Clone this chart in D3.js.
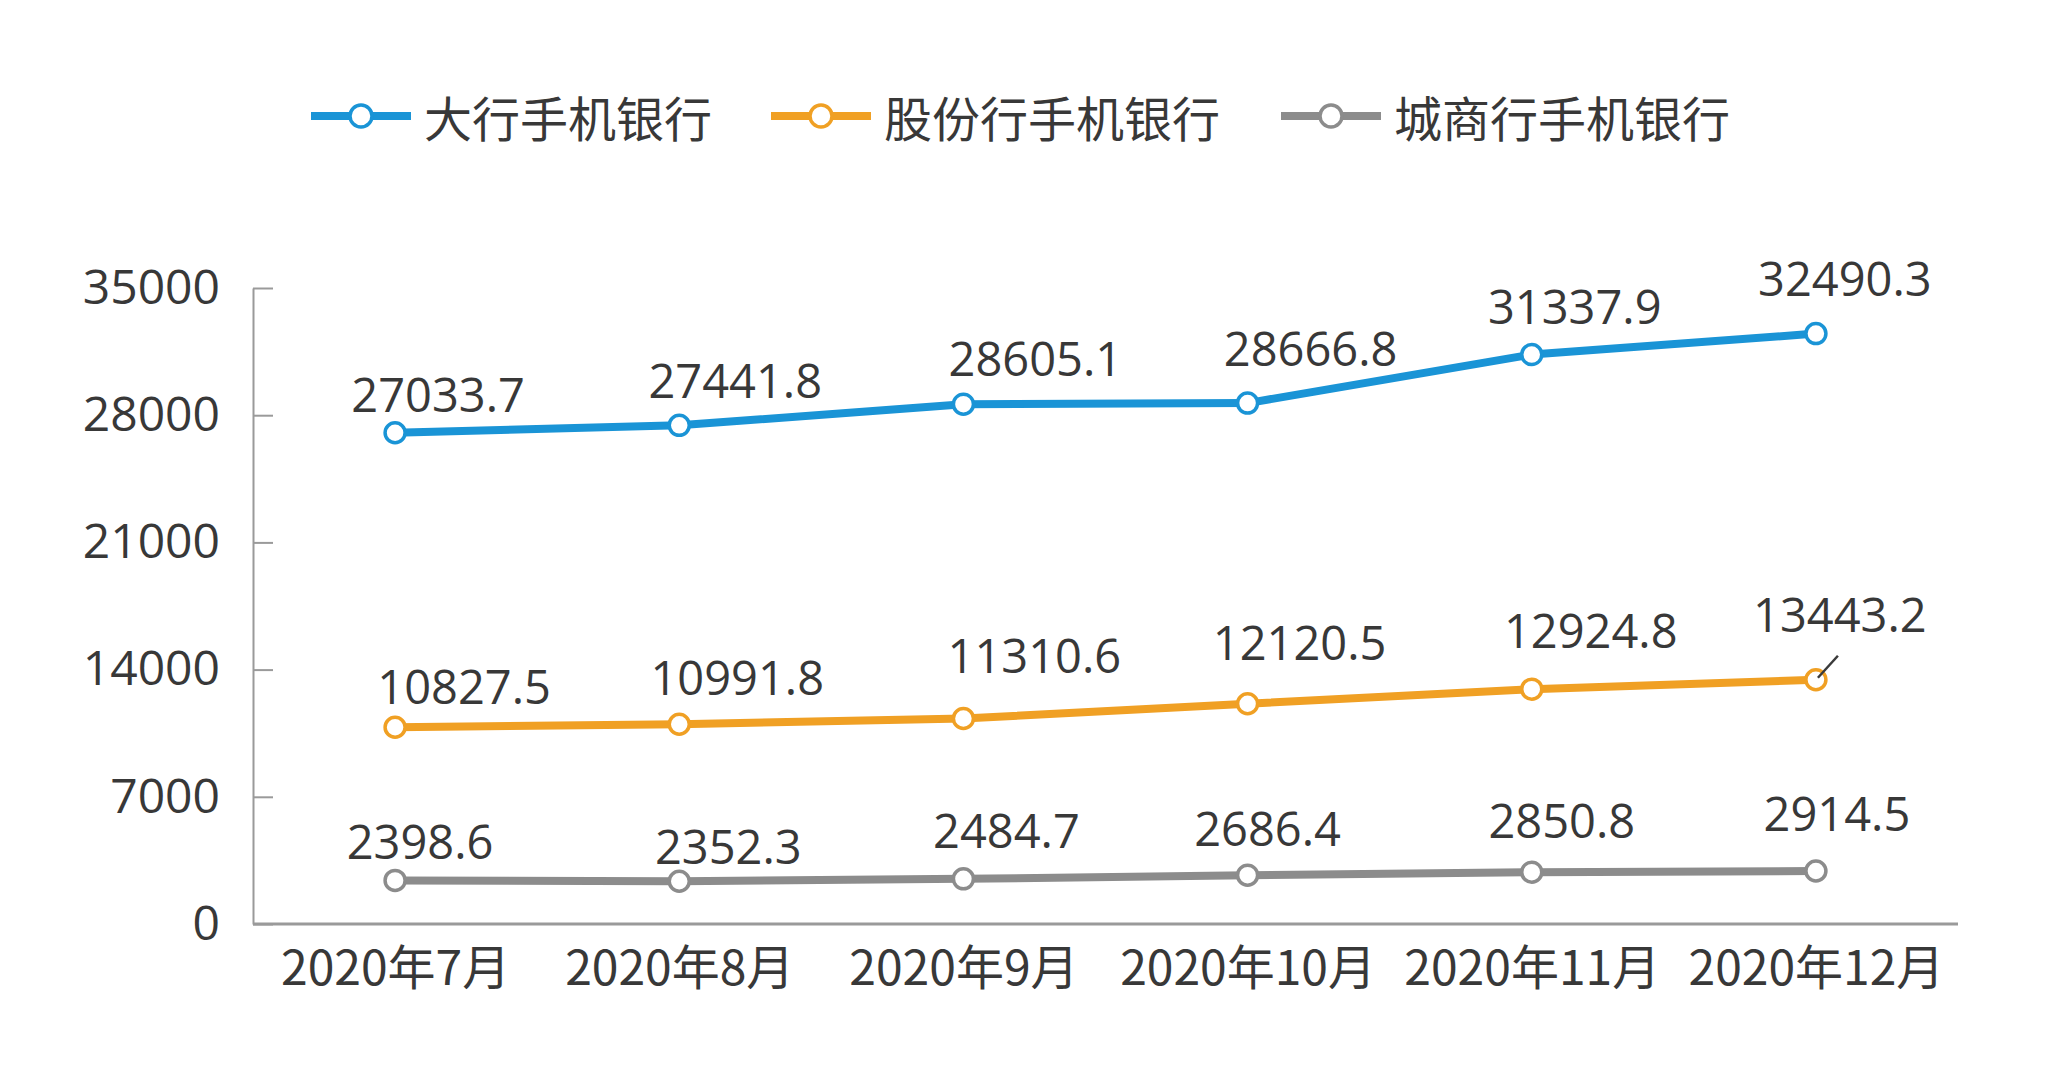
<!DOCTYPE html>
<html><head><meta charset="utf-8">
<script src="https://cdn.jsdelivr.net/npm/d3@7"></script>
<style>
html,body{margin:0;padding:0;background:#fff;}
svg{display:block;}
</style></head>
<body>
<svg id="chart" width="2056" height="1080"></svg>
<script>
// ---- data ----
const categories = ["2020年7月","2020年8月","2020年9月","2020年10月","2020年11月","2020年12月"];
const seriesNames = ["大行手机银行","股份行手机银行","城商行手机银行"];
const bigBank = [27033.7, 27441.8, 28605.1, 28666.8, 31337.9, 32490.3];
const jointBank = [10827.5, 10991.8, 11310.6, 12120.5, 12924.8, 13443.2];
const cityBank = [2398.6, 2352.3, 2484.7, 2686.4, 2850.8, 2914.5];
const yTicks = [0, 7000, 14000, 21000, 28000, 35000];

// ---- layout (label offsets relative to points, in px) ----
const labelDx = [[43,56,72,63,43,29],[69,58,71,52,59,24],[25,49,43,20,30,21]];
const labelDy = [[-39,-45,-46,-55,-49,-56],[-41,-47,-63,-62,-59,-66],[-39,-35,-49,-47,-52,-58]];
const colors = ["#1a94d6","#f0a024","#8c8c8c"];
const textColor = "#383838";
const numFont = "'Open Sans', 'Noto Sans CJK SC', sans-serif";
const cjkFont = "'Noto Sans CJK SC', sans-serif";

const svg = d3.select("#chart");
const plotLeft = 253, plotRight = 1958, plotTop = 288, plotBottom = 924;

const x = d3.scalePoint().domain(categories).range([plotLeft, plotRight]).padding(0.5);
const y = d3.scaleLinear().domain([0, 35000]).range([plotBottom, plotTop]);

// y axis
const yAxis = d3.axisLeft(y).tickValues(yTicks).tickSizeInner(-20).tickSizeOuter(0).tickPadding(33).tickFormat(d3.format("d"));
const gy = svg.append("g").attr("transform", `translate(${plotLeft},0)`).call(yAxis);
gy.select(".domain").attr("stroke", "#9a9a9a").attr("stroke-width", 2);
gy.selectAll(".tick line").attr("stroke", "#9a9a9a").attr("stroke-width", 2);
gy.selectAll(".tick text").attr("font-family", numFont).attr("font-size", 48).attr("fill", textColor);

// x axis
const xAxis = d3.axisBottom(x).tickSize(0).tickSizeOuter(0).tickPadding(27);
const gx = svg.append("g").attr("transform", `translate(0,${plotBottom})`).call(xAxis);
gx.select(".domain").attr("d", `M${plotLeft},0H${plotRight}`).attr("stroke", "#9a9a9a").attr("stroke-width", 3);
gx.selectAll(".tick text").attr("font-family", cjkFont).attr("font-size", 48).attr("fill", textColor);

const allSeries = [bigBank, jointBank, cityBank];
const line = d3.line().x((d, i) => x(categories[i])).y(d => y(d));

allSeries.forEach((vals, s) => {
  svg.append("path").datum(vals).attr("d", line).attr("fill", "none")
    .attr("stroke", colors[s]).attr("stroke-width", 8).attr("stroke-linejoin", "round");
});
allSeries.forEach((vals, s) => {
  const g = svg.append("g");
  g.selectAll("circle").data(vals).join("circle")
    .attr("cx", (d, i) => x(categories[i])).attr("cy", d => y(d)).attr("r", 10)
    .attr("fill", "#fff").attr("stroke", colors[s]).attr("stroke-width", 3.5);
  g.selectAll("text").data(vals).join("text")
    .attr("x", (d, i) => x(categories[i]) + labelDx[s][i])
    .attr("y", (d, i) => y(d) + labelDy[s][i])
    .attr("text-anchor", "middle").attr("dominant-baseline", "central")
    .attr("font-family", numFont).attr("font-size", 47).attr("fill", textColor)
    .text(d => d3.format(".1f")(d));
});

// leader line for last orange label
{
  const i = 5, px = x(categories[i]), py = y(jointBank[i]);
  svg.append("line").attr("x1", px + 2).attr("y1", py - 2).attr("x2", px + 22).attr("y2", py - 24)
    .attr("stroke", "#3a3a3a").attr("stroke-width", 2.5);
}

// legend
const legendX = [311, 771, 1281];
const legendY = 116;
seriesNames.forEach((name, s) => {
  const g = svg.append("g").attr("transform", `translate(${legendX[s]},${legendY})`);
  g.append("line").attr("x1", 0).attr("x2", 100).attr("y1", 0).attr("y2", 0)
    .attr("stroke", colors[s]).attr("stroke-width", 8);
  g.append("circle").attr("cx", 50).attr("cy", 0).attr("r", 11)
    .attr("fill", "#fff").attr("stroke", colors[s]).attr("stroke-width", 3.5);
  g.append("text").attr("x", 113).attr("y", 0).attr("dominant-baseline", "central")
    .attr("font-family", cjkFont).attr("font-size", 48).attr("fill", textColor).text(name);
});
</script>
</body></html>
